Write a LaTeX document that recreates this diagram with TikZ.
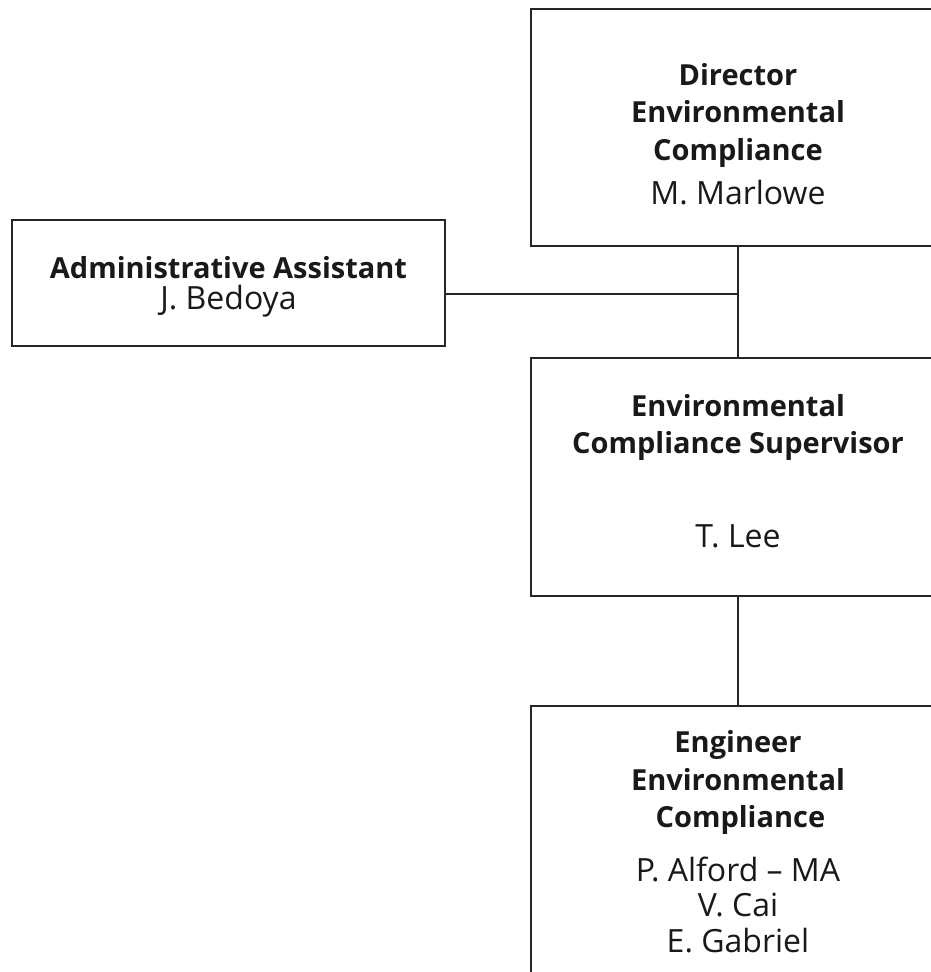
\documentclass[tikz,border=0pt]{standalone}
\usepackage{fontspec}
\setmainfont{Open Sans}
\newcommand\nmtext[1]{{\fontsize{32}{37.5}\selectfont #1}}
\begin{document}
\begin{tikzpicture}[x=1pt,y=1pt,
  box/.style={draw=black!85, line width=1.6pt, rectangle, align=center, text=black!90,
     font=\fontsize{29}{37.5}\selectfont, inner sep=0pt},
  conn/.style={draw=black!85, line width=1.3pt}]
\useasboundingbox (0,0) rectangle (931,972);
\clip (0,0) rectangle (931,972);
\fill[white] (0,0) rectangle (931,972);
\node[box, minimum width=414, minimum height=237] (dir) at (738,844.5)
  {\mbox{}\\[-2pt]\textbf{Director}\\ \textbf{Environmental}\\ \textbf{Compliance}\\[7pt] \nmtext{M. Marlowe}};
\node[box, minimum width=433, minimum height=126] (adm) at (228.5,689)
  {\mbox{}\\[-7.5pt]\textbf{Administrative Assistant}\\[-6pt] \nmtext{J. Bedoya}};
\node[box, minimum width=414, minimum height=238] (sup) at (738,495)
  {\textbf{Environmental}\\ \textbf{Compliance Supervisor}\\[56pt] \nmtext{T. Lee}\\[-24.5pt]\mbox{}};
\node[box, minimum width=414, minimum height=272, anchor=north] (eng) at (738,267)
  {\textbf{Engineer}\\ \textbf{Environmental}\\ \textbf{\,Compliance}\\[16pt] \nmtext{P. Alford -- MA}\\[-2pt] \nmtext{V. Cai}\\[-2pt] \nmtext{E. Gabriel}};
\coordinate (admout) at ([yshift=-11pt]adm.east);
\draw[conn] (dir.south) -- (sup.north);
\draw[conn] (admout) -- (admout -| dir.south);
\draw[conn] (sup.south) -- (eng.north);
\end{tikzpicture}
\end{document}
